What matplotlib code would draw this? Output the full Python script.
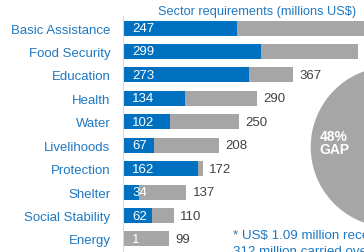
import numpy as np
import matplotlib.pyplot as plt

plt.rcParams['font.family'] = ['Liberation Sans', 'DejaVu Sans']

sectors = ['Basic Assistance', 'Food Security', 'Education', 'Health', 'Water',
           'Livelihoods', 'Protection', 'Shelter', 'Social Stability', 'Energy']
received = [247, 299, 273, 134, 102, 67, 162, 34, 62, 1]
required = [540, 508, 367, 290, 250, 208, 172, 137, 110, 99]
pie_shares = [48, 52]  # gap, funded

blue = '#0070C0'
grey = '#A6A6A6'
txt_blue = '#1F78C1'

W, H = 364, 253
fig = plt.figure(figsize=(W / 100, H / 100), dpi=100)

# bar chart
ax = fig.add_axes([123 / W, 1 - 251.7 / H, 1 - 123 / W, (251.7 - 17.3) / H])
y = np.arange(len(sectors))
ax.barh(y, required, height=0.64, color=grey)
ax.barh(y, received, height=0.64, color=blue)
ax.set_xlim(0, (W - 123) / 0.4625)
ax.set_ylim(len(sectors) - 0.5, -0.5)
ax.set_yticks(y)
ax.set_yticklabels(sectors, fontsize=9.5, color=txt_blue)
ax.tick_params(axis='y', length=0, pad=9)
ax.set_xticks([])
for s in ['top', 'right', 'bottom']:
    ax.spines[s].set_visible(False)
ax.spines['left'].set_color('#D9D9D9')
ax.spines['left'].set_linewidth(0.8)

for i in range(len(sectors)):
    ax.text(20, i, str(received[i]), color='white', fontsize=9.5, va='center', ha='left')
    if required[i] < 500:
        ax.text(required[i] + 14, i, str(required[i]), color='#404040', fontsize=9.5,
                va='center', ha='left')

fig.text(158 / W, 1 - 12 / H, 'Sector requirements (millions US\\$)', color=txt_blue,
         fontsize=9.2, va='center', ha='left')

# pie of funding gap, mostly outside the figure
r = 81
pax = fig.add_axes([(391 - r) / W, (H - 148 - r) / H, 2 * r / W, 2 * r / H])
pax.pie(pie_shares, colors=[grey, blue], startangle=82, counterclock=True,
        wedgeprops=dict(edgecolor='white', linewidth=1))
pax.set_xlim(-1, 1)
pax.set_ylim(-1, 1)
pax.axis('off')
fig.text(334 / W, 1 - 137 / H, '48%', color='white', fontsize=10, fontweight='bold',
         ha='center', va='center')
fig.text(334 / W, 1 - 150 / H, 'GAP', color='white', fontsize=10, fontweight='bold',
         ha='center', va='center')

fig.text(233 / W, 1 - 236 / H, '* US\\$ 1.09 million received in 2016 of which US\\$',
         color=txt_blue, fontsize=9.6, ha='left', va='center')
fig.text(233 / W, 1 - 252 / H, '312 million carried over from 2015',
         color=txt_blue, fontsize=9.6, ha='left', va='center')

fig.savefig('out.png', dpi=100)
